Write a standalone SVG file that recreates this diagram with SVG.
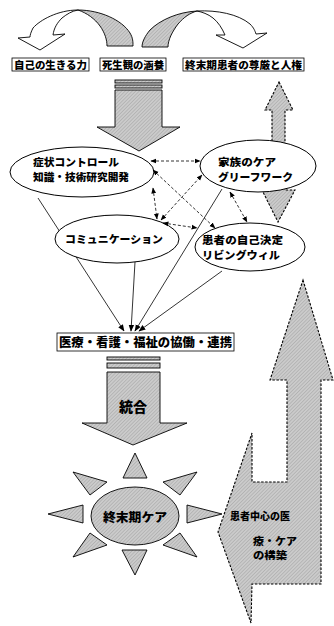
<svg xmlns="http://www.w3.org/2000/svg" width="334" height="626" viewBox="0 0 334 626">
<defs>
<pattern id="h" width="2.5" height="2.5" patternUnits="userSpaceOnUse" patternTransform="rotate(45)">
<rect width="2.5" height="2.5" fill="#cbcbcb"/>
<line x1="0" y1="0" x2="0" y2="2.5" stroke="#9c9c9c" stroke-width="0.9"/>
</pattern>
<marker id="a" viewBox="0 0 10 10" refX="9" refY="5" markerWidth="6" markerHeight="6" orient="auto-start-reverse" markerUnits="userSpaceOnUse">
<path d="M0,1 L10,5 L0,9 Z" fill="#000"/>
</marker>
<marker id="b" viewBox="0 0 10 10" refX="9" refY="5" markerWidth="7" markerHeight="7" orient="auto" markerUnits="userSpaceOnUse">
<path d="M0,1 L10,5 L0,9 Z" fill="#000"/>
</marker>
</defs>
<style>
text{font-family:"Noto Sans CJK JP","Noto Sans CJK SC",sans-serif;font-weight:900;fill:#000}
.lb{fill:#fff;stroke:#000;stroke-width:0.8}
.g{fill:url(#h);stroke:#000;stroke-width:0.9}
.gd{fill:url(#h);stroke:#000;stroke-width:1.1;stroke-dasharray:2.5,1.5}
.w{fill:#fff;stroke:#000;stroke-width:0.9}
.el{fill:#fff;stroke:#000;stroke-width:1}
.da{fill:none;stroke:#000;stroke-width:0.8;stroke-dasharray:3,2;marker-start:url(#a);marker-end:url(#a)}
.sl{fill:none;stroke:#000;stroke-width:0.8;marker-end:url(#b)}
.t{font-size:10.5px}
</style>

<g id="curve-left">
<path class="g" d="M78,10 C100,10 122,20 130,33 C133,38 133,42 133,46 L107,46 C107,40 105,33 100,26 C95,19 87,13 78,10 Z"/>
<path class="w" d="M78,10 C58,10 40,20 33,28 C31,32 30,35 30,37 L18,38 L40,50 L65,34 L53,35 C54,28 57,23 62,18 C67,14 72,11 78,10 Z"/>
</g>
<g id="curve-right">
<path class="g" d="M197,11 C178,12 160,20 150,30 C145,36 142,42 142,47 L168,47 C168,40 172,32 178,24 C184,17 190,13 197,11 Z"/>
<path class="w" d="M197,11 C217,10 238,14 250,24 C254,28 255,31 256,34 L267,33 L243,48 L216,35 L225,35 C222,28 218,22 213,18 C208,14 202,12 197,11 Z"/>
</g>

<g id="label-1"><rect class="lb" x="12" y="58" width="77" height="13"/><text class="t" x="14" y="68.5" textLength="73" lengthAdjust="spacingAndGlyphs">自己の生きる力</text></g>
<g id="label-2"><rect class="lb" x="100" y="58" width="66" height="13"/><text class="t" x="102" y="68.5" textLength="62" lengthAdjust="spacingAndGlyphs">死生観の涵養</text></g>
<g id="label-3"><rect class="lb" x="183" y="58" width="121" height="13"/><text class="t" x="185" y="68.5" textLength="117" lengthAdjust="spacingAndGlyphs">終末期患者の尊厳と人権</text></g>

<g id="down-arrow-1">
<rect class="g" x="115" y="80" width="47" height="3"/>
<rect class="g" x="115" y="85" width="47" height="3"/>
<path class="g" d="M115,90 L162,90 L162,127 L180,127 L139,151 L97,127 L115,127 Z"/>
</g>

<g id="updown-arrow">
<path class="gd" d="M279,82 L293,110 L285,110 L285,190 L295,190 L278,222 L262,190 L272,190 L272,110 L265,110 Z"/>
</g>

<g id="connectors">
<line class="sl" x1="38" y1="198" x2="124" y2="331"/>
<line class="sl" x1="135" y1="262" x2="131" y2="331"/>
<line class="sl" x1="222" y1="189" x2="135" y2="331"/>
<line class="sl" x1="222" y1="271" x2="139" y2="331"/>
</g>

<g id="node-symptom"><ellipse class="el" cx="82" cy="172" rx="72" ry="25"/>
<text class="t" x="33" y="166" textLength="86" lengthAdjust="spacingAndGlyphs">症状コントロール</text>
<text class="t" x="33" y="181" textLength="96" lengthAdjust="spacingAndGlyphs">知識・技術研究開発</text></g>
<g id="node-family"><ellipse class="el" cx="258" cy="166" rx="58" ry="26"/>
<text class="t" x="218" y="166" textLength="58" lengthAdjust="spacingAndGlyphs">家族のケア</text>
<text class="t" x="218" y="181" textLength="75" lengthAdjust="spacingAndGlyphs">グリーフワーク</text></g>
<g id="node-communication"><ellipse class="el" cx="117" cy="239" rx="62" ry="24"/>
<text class="t" x="65" y="243" textLength="98" lengthAdjust="spacingAndGlyphs">コミュニケーション</text></g>
<g id="node-patient"><ellipse class="el" cx="250" cy="247" rx="55" ry="24"/>
<text class="t" x="202" y="244" textLength="81" lengthAdjust="spacingAndGlyphs">患者の自己決定</text>
<text class="t" x="202" y="259" textLength="78" lengthAdjust="spacingAndGlyphs">リビングウィル</text></g>

<g id="dashed-connectors">
<line class="da" x1="151" y1="161" x2="200" y2="161"/>
<line class="da" x1="153" y1="170" x2="215" y2="228"/>
<line class="da" x1="153" y1="188" x2="157" y2="219"/>
<line class="da" x1="161" y1="220" x2="202" y2="175"/>
<line class="da" x1="163" y1="223" x2="197" y2="228"/>
<line class="da" x1="230" y1="192" x2="247" y2="222"/>
</g>

<g id="label-collab"><rect class="lb" x="57" y="333" width="177" height="18"/>
<text x="59" y="347" font-size="12" textLength="173" lengthAdjust="spacingAndGlyphs">医療・看護・福祉の協働・連携</text></g>

<g id="down-arrow-2">
<rect class="g" x="107" y="357" width="53" height="3"/>
<rect class="g" x="107" y="363" width="53" height="5"/>
<path class="g" d="M107,372 L160,372 L160,423 L187,423 L133,445 L82,423 L107,423 Z"/>
<text x="133" y="412" font-size="14" text-anchor="middle">統合</text>
</g>

<g id="node-endcare">
<path class="g" d="M123,478 L135,453 L147,478 Z"/>
<path class="g" d="M122,550 L135,575 L147,550 Z"/>
<path class="g" d="M48,514 L83,505 L83,523 Z"/>
<path class="g" d="M187,505 L222,514 L187,523 Z"/>
<path class="g" d="M73,472 L107,482 L90,495 Z"/>
<path class="g" d="M163,482 L197,472 L180,495 Z"/>
<path class="g" d="M73,557 L90,533 L107,545 Z"/>
<path class="g" d="M163,545 L180,533 L197,557 Z"/>
<ellipse class="g" cx="135" cy="516" rx="44" ry="29"/>
<text x="135" y="522" font-size="12" text-anchor="middle" textLength="64" lengthAdjust="spacingAndGlyphs">終末期ケア</text>
</g>

<g id="big-arrow">
<path class="gd" d="M303,280 L333,380 L321,380 L321,584 L252,584 L251,623 L218,532 L252,433 L252,482 L287,482 L287,380 L270,380 Z"/>
<text x="230" y="520" font-size="10" textLength="60" lengthAdjust="spacingAndGlyphs">患者中心の医</text>
<text x="253" y="545" font-size="10" textLength="44" lengthAdjust="spacingAndGlyphs">療・ケア</text>
<text x="253" y="559" font-size="10" textLength="34" lengthAdjust="spacingAndGlyphs">の構築</text>
</g>
</svg>
